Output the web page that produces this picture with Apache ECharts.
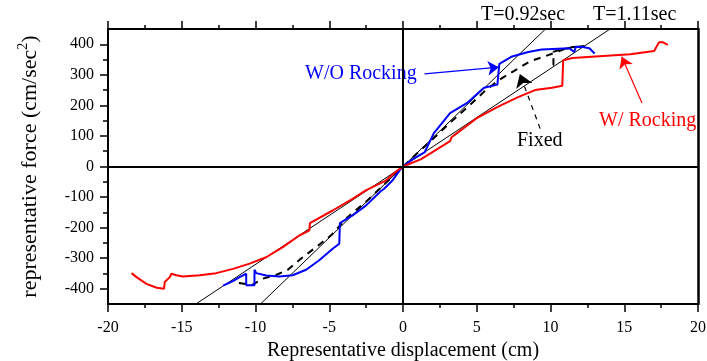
<!DOCTYPE html>
<html>
<head>
<meta charset="utf-8">
<script src="https://cdn.jsdelivr.net/npm/echarts@6/dist/echarts.min.js"></script>
<style>
  html, body { margin: 0; padding: 0; background: #fff; }
  #main { width: 707px; height: 361px; }
</style>
</head>
<body>
<div id="main"></div>
<script>
// data: [displacement (cm), force (cm/sec^2)]
var withoutRocking = [
  [-12.2, -390], [-11.53, -375], [-11.08, -362], [-10.63, -351], [-10.63, -389],
  [-10.07, -389], [-10.07, -338], [-9.95, -349], [-9.28, -357], [-8.38, -360],
  [-7.48, -356], [-6.57, -338], [-5.68, -307], [-4.77, -269], [-4.32, -253],
  [-4.28, -185], [-3.42, -160], [-2.52, -128], [-1.51, -81], [-1.28, -73],
  [-0.72, -46], [-0.16, -8], [0, 0], [0.66, 24], [1.46, 46], [2.1, 110],
  [2.26, 119], [3.19, 175], [4.35, 208], [5.49, 258], [6.4, 268], [6.53, 269],
  [6.53, 336], [7.34, 359], [8.49, 375], [9.41, 383], [11.26, 387], [11.61, 375],
  [11.72, 392], [12.18, 391], [12.64, 387], [12.99, 370]
];
var withRocking = [
  [-18.4, -349], [-18.07, -362], [-17.39, -384], [-16.7, -397], [-16.2, -400],
  [-16.15, -378], [-15.81, -362], [-15.7, -351], [-15.36, -356], [-14.91, -360],
  [-13.78, -356], [-12.66, -349], [-11.53, -335], [-10.4, -318], [-9.28, -297],
  [-8.15, -264], [-7.03, -226], [-6.35, -209], [-6.31, -185], [-4.77, -144],
  [-3.42, -106], [-2.52, -78], [-1.17, -46], [-0.38, -13], [0, 0], [1.23, 24],
  [3.19, 83], [3.3, 96], [5.0, 158], [6.42, 195], [7.8, 227], [8.95, 250],
  [10.1, 258], [10.8, 264], [10.86, 348], [11.49, 355], [13.57, 362],
  [15.4, 367], [17.03, 378], [17.36, 407], [17.6, 407], [17.95, 398]
];
var fixedBase = [
  [-11.13, -381], [-10.25, -388], [-9.5, -367], [-8.6, -355], [-7.81, -338],
  [-6.98, -304], [-5.95, -266], [-4.89, -226], [-3.76, -166], [-2.5, -115],
  [-1.2, -55], [0, 0], [1.0, 45], [2.2, 98], [3.3, 148], [4.4, 195], [5.5, 245],
  [6.5, 283], [7.57, 314], [8.6, 344], [9.65, 361], [10.6, 378], [11.2, 390],
  [12.3, 394], [11.5, 390], [10.6, 382], [10.2, 375], [10.2, 333], [10.45, 329]
];
var periodLine092 = [[-9.66, -450], [9.66, 450]];
var periodLine111 = [[-14.04, -450], [14.04, 450]];

// annotation arrows [from, to]
var arrowWO = [[1.46, 303], [6.5, 325]];
var arrowW = [[16.2, 208], [14.83, 359]];
var arrowFixed = [[9.3, 124], [7.92, 303]];

var xTicks = { min: -20, max: 20, interval: 5 };
var yTicks = { min: -450, max: 450, interval: 50 };
var yLabels = [-400, -300, -200, -100, 0, 100, 200, 300, 400];
var yMinor = [-350, -250, -150, -50, 50, 150, 250, 350];

var serif = 'Liberation Serif';

var chart = echarts.init(document.getElementById('main'));

var tickStyle = { show: true, inside: false, length: 8, lineStyle: { color: '#000', width: 1.5 } };
var minorStyle = { show: true, splitNumber: 2, length: 4, lineStyle: { color: '#000', width: 1.5 } };

var option = {
  backgroundColor: '#fff',
  animation: false,
  grid: { left: 108, right: 9, top: 29, bottom: 57, outerBoundsMode: 'none', containLabel: false },
  xAxis: [{
    type: 'value', min: xTicks.min, max: xTicks.max, interval: xTicks.interval,
    position: 'bottom',
    name: 'Representative displacement (cm)',
    nameLocation: 'middle', nameGap: 37,
    nameTextStyle: { fontFamily: serif, fontSize: 20, color: '#000' },
    axisLine: { onZero: false, lineStyle: { color: '#000', width: 2 } },
    axisTick: tickStyle, minorTick: minorStyle,
    axisLabel: { fontFamily: serif, fontSize: 16, color: '#000', margin: 16,
      showMinLabel: true, showMaxLabel: true },
    splitLine: { show: false }
  }, {
    type: 'value', min: xTicks.min, max: xTicks.max, interval: xTicks.interval,
    position: 'top',
    axisLine: { onZero: false, lineStyle: { color: '#000', width: 2 } },
    axisTick: tickStyle, minorTick: minorStyle,
    axisLabel: { show: false },
    splitLine: { show: false }
  }],
  yAxis: [{
    type: 'value', min: yTicks.min, max: yTicks.max, interval: yTicks.interval,
    position: 'left',
    name: '{a|representative force (cm/sec}{s|2}{a|)}',
    nameLocation: 'middle', nameGap: 63,
    nameTextStyle: {
      color: '#000',
      rich: {
        a: { fontFamily: serif, fontSize: 22, color: '#000' },
        s: { fontFamily: serif, fontSize: 14, color: '#000', padding: [0, 0, 15, 0] }
      }
    },
    axisLine: { onZero: false, lineStyle: { color: '#000', width: 2 } },
    axisTick: { show: true, inside: false, length: 8, customValues: yLabels,
      lineStyle: { color: '#000', width: 1.5 } },
    axisLabel: {
      fontFamily: serif, fontSize: 16, color: '#000', margin: 14,
      customValues: yLabels,
      formatter: function (v) { return yLabels.indexOf(v) >= 0 ? String(v) : ''; }
    },
    splitLine: { show: false }
  }, {
    type: 'value', min: yTicks.min, max: yTicks.max, interval: yTicks.interval,
    position: 'right',
    axisLine: { onZero: false, lineStyle: { color: '#000', width: 2.5 } },
    axisTick: { show: false },
    axisLabel: { show: false },
    splitLine: { show: false }
  }, {
    type: 'value', min: yTicks.min, max: yTicks.max, interval: yTicks.interval,
    position: 'left',
    axisLine: { show: false, onZero: false },
    axisTick: { show: true, inside: false, length: 5, customValues: yMinor,
      lineStyle: { color: '#000', width: 1.5 } },
    axisLabel: { show: false },
    splitLine: { show: false }
  }],
  series: [
    {
      name: 'T=0.92sec', type: 'line', data: periodLine092, showSymbol: false,
      lineStyle: { color: '#000', width: 1 },
      markLine: {
        silent: true, symbol: 'none', label: { show: false },
        lineStyle: { color: '#000', width: 2, type: 'solid' },
        data: [{ xAxis: 0 }, { yAxis: 0 }]
      }
    },
    {
      name: 'T=1.11sec', type: 'line', data: periodLine111, showSymbol: false,
      lineStyle: { color: '#000', width: 1 }
    },
    {
      name: 'Fixed', type: 'line', data: fixedBase, showSymbol: false,
      lineStyle: { color: '#000', width: 2, type: [7, 6] }
    },
    {
      name: 'W/O Rocking', type: 'line', data: withoutRocking, showSymbol: false,
      lineStyle: { color: '#0000ff', width: 2 }
    },
    {
      name: 'W/ Rocking', type: 'line', data: withRocking, showSymbol: false,
      lineStyle: { color: '#ff0000', width: 2 }
    },
    {
      type: 'lines', coordinateSystem: 'cartesian2d', symbol: ['none', 'arrow'], symbolSize: 11,
      lineStyle: { color: '#0000ff', width: 1.2, opacity: 1 },
      data: [{ coords: arrowWO }]
    },
    {
      type: 'lines', coordinateSystem: 'cartesian2d', symbol: ['none', 'arrow'], symbolSize: 11,
      lineStyle: { color: '#ff0000', width: 1.2, opacity: 1 },
      data: [{ coords: arrowW }]
    },
    {
      type: 'lines', coordinateSystem: 'cartesian2d', symbol: ['none', 'arrow'], symbolSize: 13,
      lineStyle: { color: '#000', width: 1.2, type: [5, 5], opacity: 1 },
      data: [{ coords: arrowFixed }]
    }
  ],
  graphic: [
    { type: 'text', left: 481, top: 5, style: { text: 'T=0.92sec', fontFamily: serif, fontSize: 20, fill: '#000' } },
    { type: 'text', left: 593, top: 5, style: { text: 'T=1.11sec', fontFamily: serif, fontSize: 20, fill: '#000' } },
    { type: 'text', left: 305, top: 64, style: { text: 'W/O Rocking', fontFamily: serif, fontSize: 20, fill: '#0000ff' } },
    { type: 'text', left: 599, top: 111, style: { text: 'W/ Rocking', fontFamily: serif, fontSize: 20, fill: '#ff0000' } },
    { type: 'text', left: 517, top: 131, style: { text: 'Fixed', fontFamily: serif, fontSize: 20, fill: '#000' } }
  ]
};

chart.setOption(option);
</script>
</body>
</html>
